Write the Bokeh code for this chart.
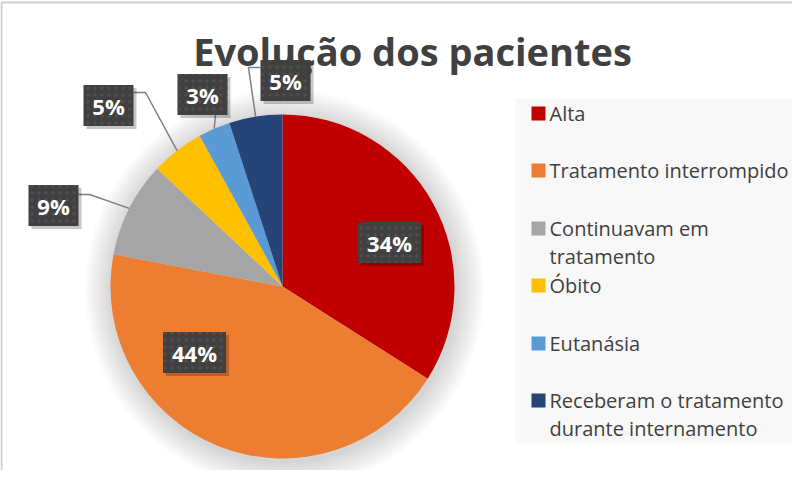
import math
from bokeh.plotting import figure
from bokeh.models import Range1d
from bokeh.core.properties import value
from bokeh.embed import file_html
from bokeh.resources import INLINE

# ---- data ----
categories = ["Alta", "Tratamento interrompido", "Continuavam em tratamento",
              "Óbito", "Eutanásia", "Receberam o tratamento durante internamento"]
legend_labels = ["Alta", "Tratamento interrompido", "Continuavam em\ntratamento",
                 "Óbito", "Eutanásia", "Receberam o tratamento\ndurante internamento"]
percentages = [34, 44, 9, 5, 3, 5]
colors = ["#C00000", "#ED7D31", "#A5A5A5", "#FFC000", "#5B9BD5", "#264478"]
title_text = "Evolução dos pacientes"

# ---- layout (page pixel coordinates) ----
W, H = 792, 470
PAGE_H = 486


def Y(py):
    return PAGE_H - py


p = figure(width=W, height=H, output_backend="svg", toolbar_location=None,
           x_range=Range1d(8, 8 + W), y_range=Range1d(PAGE_H - 8 - H, PAGE_H - 8),
           min_border=0, outline_line_color=None, background_fill_color="white",
           border_fill_color="white")
p.axis.visible = False
p.grid.visible = False

# chart border (top and left)
p.line([9, 9, 800], [Y(486), Y(10), Y(10)], line_color="#D0D0D0", line_width=2)

# legend background
p.quad(left=[523], right=[810], top=[Y(106)], bottom=[Y(452)],
       fill_color="#F8F8F8", line_color=None)

# pie geometry
cx, cy, R = 290, Y(294), 172
total = sum(percentages)
starts, ends, mids = [], [], []
acc = 0.0
for v in percentages:
    a0 = math.pi / 2 - 2 * math.pi * acc / total
    acc += v
    a1 = math.pi / 2 - 2 * math.pi * acc / total
    starts.append(a0)
    ends.append(a1)
    mids.append((a0 + a1) / 2)

# soft shadow
for k in range(14):
    p.circle(x=[cx + 2], y=[cy - 3], radius=R + 2 + 2 * k, radius_units="screen",
             fill_color="black", fill_alpha=0.011, line_color=None)

p.wedge(x=[cx] * len(percentages), y=[cy] * len(percentages), radius=R,
        radius_units="screen", start_angle=starts, end_angle=ends,
        direction="clock", fill_color=colors, line_color=None)

# data labels: box centers (page coords) and leader lines
label_pos = [(397, 250), (202, 360), (61, 213), (116, 113), (210, 102), (293, 88)]
leader_start = [None, None, [(86, 202), (97, 202)], [(141, 100), (153, 100)],
                [(223, 122)], [(268, 75), (256, 75)]]

for i, v in enumerate(percentages):
    if leader_start[i] is None:
        continue
    ex = cx + R * math.cos(mids[i])
    ey = cy + R * math.sin(mids[i])
    xs = [pt[0] for pt in leader_start[i]] + [ex]
    ys = [Y(pt[1]) for pt in leader_start[i]] + [ey]
    p.line(xs, ys, line_color="#7F7F7F", line_width=1.5)

label_text = [f"{v}%" for v in percentages]
bw = [63 if v >= 10 else 50 for v in percentages]
lx = [pt[0] for pt in label_pos]
ly = [Y(pt[1]) for pt in label_pos]
# shadow
p.rect(x=[x + 3 for x in lx], y=[y - 3 for y in ly], width=bw, height=41,
       width_units="screen", height_units="screen",
       fill_color="black", fill_alpha=0.22, line_color=None)
p.rect(x=lx, y=ly, width=bw, height=41, width_units="screen", height_units="screen",
       fill_color="#404040", line_color=None,
       hatch_pattern="dot", hatch_color="#4E4E4E", hatch_scale=7, hatch_weight=1)
p.text(x=lx, y=ly, text=label_text, text_font=value("Open Sans"),
       text_font_style="bold", text_font_size="22px", text_color="white",
       text_align="center", text_baseline="middle")

# title
p.text(x=[420], y=[Y(58)], text=[title_text], text_font=value("Open Sans"),
       text_font_style="bold", text_font_size="38px", text_color="#404040",
       text_align="center", text_baseline="alphabetic")

# legend
leg_y = [121, 178, 236, 293, 351, 408]
p.rect(x=[546] * 6, y=[Y(v) for v in leg_y], width=14, height=14,
       width_units="screen", height_units="screen", fill_color=colors, line_color=None)
tx, ty, tt = [], [], []
for yy, lab in zip(leg_y, legend_labels):
    for k, line in enumerate(lab.split("\n")):
        tx.append(557)
        ty.append(Y(yy + 28 * k))
        tt.append(line)
p.text(x=tx, y=ty, text=tt, text_font=value("Open Sans"), text_font_size="20px",
       text_color="#404040", text_align="left", text_baseline="middle")

open("out.html", "w").write(file_html(p, INLINE))
